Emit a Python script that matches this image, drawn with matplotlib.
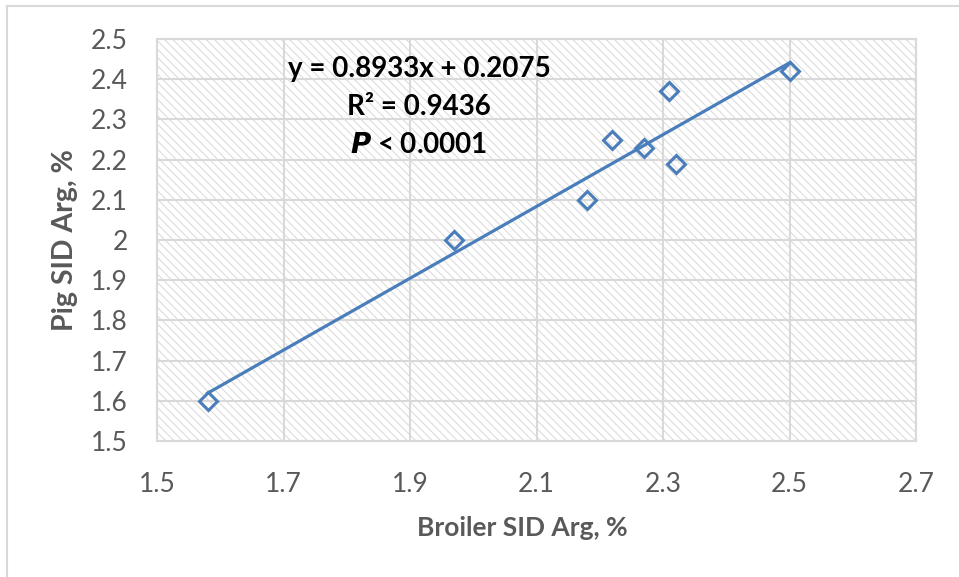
import numpy as np
import matplotlib
matplotlib.use('Agg')
from matplotlib import pyplot as plt
from matplotlib.lines import Line2D

plt.rcParams['font.family'] = ['Lato', 'DejaVu Sans']
plt.rcParams['hatch.color'] = '#d9d9d9'
plt.rcParams['hatch.linewidth'] = 0.7

# 肉鸡与猪的SID精氨酸需要量
broiler_arg = [1.58, 1.97, 2.18, 2.22, 2.27, 2.31, 2.32, 2.50]
pig_arg = [1.60, 2.00, 2.10, 2.25, 2.23, 2.37, 2.19, 2.42]

# 回归方程
slope = 0.8933
intercept = 0.2075
r2 = 0.9436

x_ticks = [1.5, 1.7, 1.9, 2.1, 2.3, 2.5, 2.7]
y_ticks = [1.5, 1.6, 1.7, 1.8, 1.9, 2.0, 2.1, 2.2, 2.3, 2.4, 2.5]
y_tick_labels = ['1.5', '1.6', '1.7', '1.8', '1.9', '2', '2.1', '2.2', '2.3', '2.4', '2.5']

blue = '#4a7ebb'
grey_txt = '#595959'
grid_c = '#d9d9d9'

fig = plt.figure(figsize=(9.59, 5.77), dpi=100)
ax = fig.add_axes([157/959, 1-441/577, (916-157)/959, (441-39)/577])

# 斜线底纹
ax.patch.set_facecolor('white')
ax.patch.set_hatch('\\\\\\\\')
ax.patch.set_edgecolor('#d9d9d9')
ax.patch.set_linewidth(0)

ax.set_xlim(1.5, 2.7)
ax.set_ylim(1.5, 2.5)
ax.set_xticks(x_ticks)
ax.set_xticklabels([str(v) for v in x_ticks])
ax.set_yticks(y_ticks)
ax.set_yticklabels(y_tick_labels)
ax.tick_params(length=0, labelsize=19, colors=grey_txt)
ax.tick_params(axis='x', pad=22)
ax.tick_params(axis='y', pad=21)
ax.grid(True, color=grid_c, linewidth=1.5)
ax.set_axisbelow(True)
for s in ax.spines.values():
    s.set_color(grid_c)
    s.set_linewidth(1.5)

# 趋势线
xs = np.array([min(broiler_arg), max(broiler_arg)])
ax.plot(xs, slope * xs + intercept, color=blue, linewidth=2.3, zorder=3)
ax.plot(broiler_arg, pig_arg, linestyle='none', marker='D', markersize=9,
        markerfacecolor='none', markeredgecolor=blue, markeredgewidth=2.2, zorder=4)

ax.set_xlabel('Broiler SID Arg, %', fontsize=19, fontweight='bold', color=grey_txt)
ax.xaxis.set_label_coords((522-157)/(916-157), -(516-441)/(441-39))
ax.set_ylabel('Pig SID Arg, %', fontsize=20.5, fontweight='bold', color=grey_txt)
ax.yaxis.set_label_coords(-(157-78)/(916-157), (441-240)/(441-39))

tx = (419-157)/(916-157)
ax.text(tx, 1-(69-39)/(441-39), 'y = %.4fx + %.4f' % (slope, intercept), transform=ax.transAxes,
        ha='center', va='center', fontsize=20, fontweight='bold', color='black', zorder=5)
ax.text(tx, 1-(107-39)/(441-39), 'R² = %.4f' % r2, transform=ax.transAxes,
        ha='center', va='center', fontsize=20, fontweight='bold', color='black', zorder=5)
ax.text(tx, 1-(145-39)/(441-39), r'$\boldsymbol{P}$ < 0.0001', transform=ax.transAxes,
        ha='center', va='center', fontsize=20, fontweight='bold', color='black', zorder=5)

# 图表外框
fig.add_artist(Line2D([7/959, 7/959], [0, 1-6/577], color=grid_c, linewidth=1.5))
fig.add_artist(Line2D([7/959, 1], [1-6/577, 1-6/577], color=grid_c, linewidth=1.5))

plt.savefig('out.png', dpi=100)
